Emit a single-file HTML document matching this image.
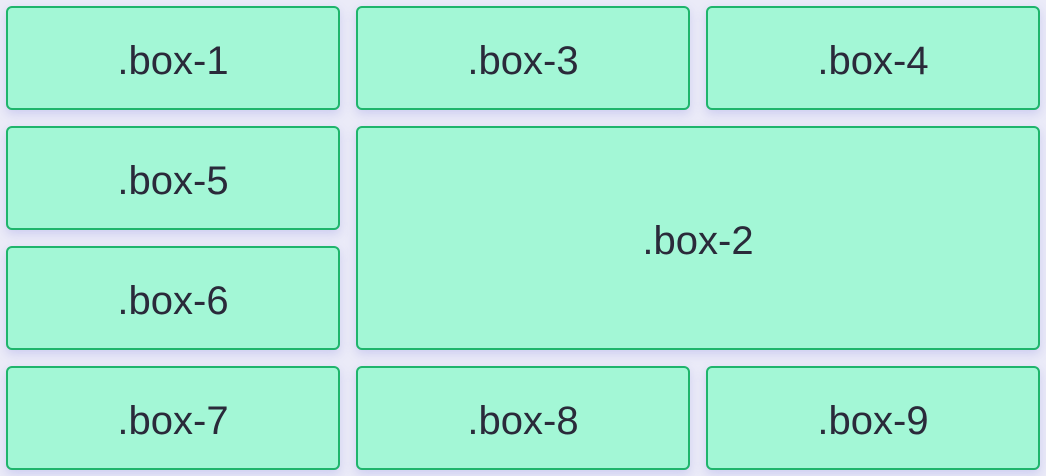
<!DOCTYPE html>
<html><head><style>
html,body{margin:0;padding:0;}
body{width:1046px;height:476px;background:#ebebf8;position:relative;overflow:hidden;font-family:"Liberation Sans",sans-serif;}
.b{position:absolute;box-sizing:border-box;background:#a3f7d6;border:2px solid #1fb56c;border-radius:6px;box-shadow:0 4px 10px rgba(120,120,220,0.25);display:flex;align-items:center;justify-content:center;font-size:40px;color:#2a2a3a;padding-top:6px;}
</style></head><body>
<div class="b" style="left:6px;top:6px;width:334px;height:104px">.box-1</div>
<div class="b" style="left:356px;top:6px;width:334px;height:104px">.box-3</div>
<div class="b" style="left:706px;top:6px;width:334px;height:104px">.box-4</div>
<div class="b" style="left:6px;top:126px;width:334px;height:104px">.box-5</div>
<div class="b" style="left:356px;top:126px;width:684px;height:224px">.box-2</div>
<div class="b" style="left:6px;top:246px;width:334px;height:104px">.box-6</div>
<div class="b" style="left:6px;top:366px;width:334px;height:104px">.box-7</div>
<div class="b" style="left:356px;top:366px;width:334px;height:104px">.box-8</div>
<div class="b" style="left:706px;top:366px;width:334px;height:104px">.box-9</div>
</body></html>
